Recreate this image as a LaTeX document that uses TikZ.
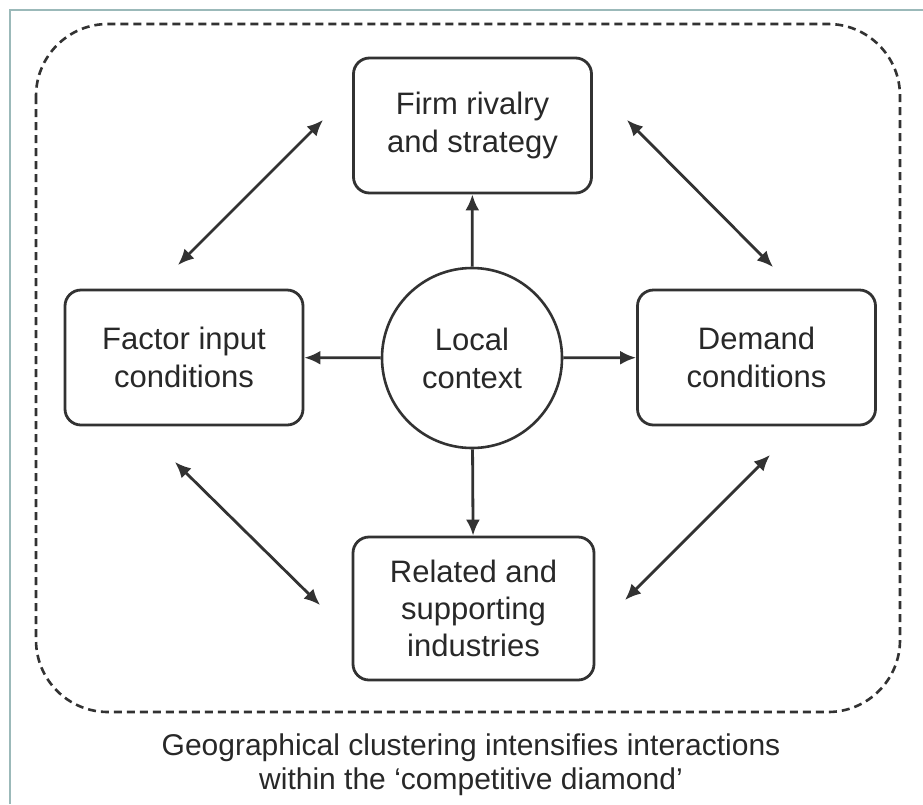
\documentclass[tikz,border=0pt]{standalone}
\usepackage{fontspec}
\setmainfont{Liberation Sans}
\usetikzlibrary{arrows.meta}
\definecolor{linec}{RGB}{50,50,50}
\definecolor{textc}{RGB}{40,40,40}
\definecolor{framec}{RGB}{155,185,185}
\begin{document}
\begin{tikzpicture}[x=1pt,y=-1pt,
  box/.style={draw=linec,line width=2.8pt,rounded corners=16pt,minimum width=238pt,minimum height=135pt,inner sep=0pt,align=center,text=textc,font=\fontsize{31}{38}\selectfont},
  ctx/.style={draw=linec,line width=2.6pt,circle,minimum size=180pt,inner sep=0pt,align=center,text=textc,font=\fontsize{31}{38}\selectfont},
  arr/.style={draw=linec,line width=2.8pt,-{Latex[length=16pt,width=14pt]}},
  darr/.style={draw=linec,line width=2.8pt,{Latex[length=16pt,width=14pt]}-{Latex[length=16pt,width=14pt]}},
  zone/.style={draw=linec,line width=2.6pt,dash pattern=on 8pt off 5pt,rounded corners=72pt},
  capt/.style={text=textc,align=center,font=\fontsize{30}{34}\selectfont,inner sep=0pt}]
\useasboundingbox (0,0) rectangle (923,804);
\fill[white] (0,0) rectangle (923,804);
\draw[framec,line width=2.5pt] (10,804) -- (10,10) -- (923,10);
\draw[zone] (36,24) rectangle (900,712);
\node[box] (firm) at (472.5,125.5) {Firm rivalry\\and strategy};
\node[box] (factor) at (184,357.5) {Factor input\\conditions};
\node[box] (demand) at (756.5,357.5) {Demand\\conditions};
\node[box,minimum width=241pt,minimum height=143pt,font=\fontsize{31}{37}\selectfont] (related) at (473.5,608.5) {Related and\\supporting\\industries};
\node[ctx] (local) at (472,358) {Local\\context};
\draw[arr] (local) -- (firm);
\draw[arr] (local) -- (factor);
\draw[arr] (local) -- (demand);
\draw[arr] (local) -- (related);
\coordinate (tl1) at (178,265); \coordinate (tl2) at (323,120);
\coordinate (tr1) at (627,120); \coordinate (tr2) at (773,267);
\coordinate (bl1) at (175,462); \coordinate (bl2) at (320,605);
\coordinate (br1) at (770,455); \coordinate (br2) at (625,600);
\draw[darr] (tl1) -- (tl2);
\draw[darr] (tr1) -- (tr2);
\draw[darr] (bl1) -- (bl2);
\draw[darr] (br1) -- (br2);
\node[capt] (caption) at (471,765) {Geographical clustering intensifies interactions\\within the ‘competitive diamond’};
\end{tikzpicture}
\end{document}
